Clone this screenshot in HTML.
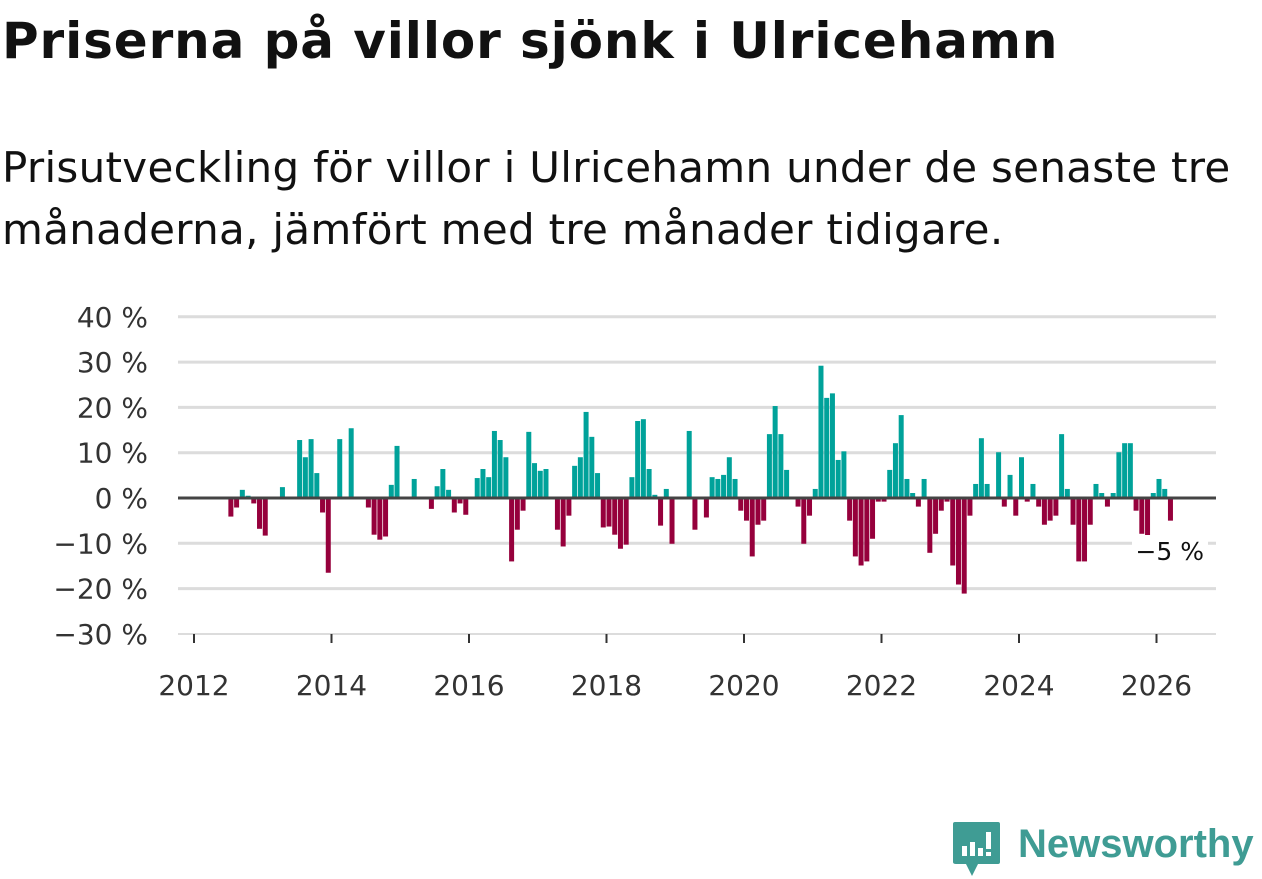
<!DOCTYPE html>
<html><head><meta charset="utf-8">
<style>
body{margin:0;width:1262px;height:879px;background:#fff;overflow:hidden;font-family:"DejaVu Sans","Liberation Sans",sans-serif;color:#111}
h1{position:absolute;left:2px;top:12px;margin:0;font-size:50px;font-weight:bold;color:#111;letter-spacing:0.9px;white-space:nowrap}
.sub{position:absolute;left:2px;top:137px;margin:0;font-size:42px;letter-spacing:0.3px;line-height:62px;color:#111;width:1258px}
svg{position:absolute;left:0;top:0}
</style></head>
<body>
<h1>Priserna på villor sjönk i Ulricehamn</h1>
<p class="sub">Prisutveckling för villor i Ulricehamn under de senaste tre månaderna, jämfört med tre månader tidigare.</p>
<svg id="chart" width="1262" height="879"></svg>
<div style="position:absolute;left:952px;top:820px;width:310px;height:58px">
  <svg width="50" height="58" style="position:absolute;left:0;top:0">
    <path d="M3,2 H46 Q48,2 48,4 V42 Q48,44 46,44 H26 L20,56 L14,44 H4 Q1,44 1,42 V4 Q1,2 3,2Z" fill="#3f9c94"/>
    <rect x="10" y="26" width="5" height="10" fill="#fff"/>
    <rect x="18" y="22" width="5" height="14" fill="#fff"/>
    <rect x="26" y="28" width="5" height="8" fill="#fff"/>
    <rect x="34" y="12" width="5" height="17" fill="#fff"/>
    <rect x="34" y="32" width="5" height="4" fill="#fff"/>
  </svg>
  <div style="position:absolute;left:66px;top:2px;font-size:40px;font-weight:bold;color:#3f9c94;font-family:'Liberation Sans',sans-serif">Newsworthy</div>
</div>
<script>
const startMonth = 6;
const values = [-4.1,-2.1,1.8,0.5,-1.2,-6.8,-8.3,0,0,2.4,0,0,12.8,9.0,13.0,5.5,-3.2,-16.5,0,13.0,0,15.4,0,0,-2.1,-8.1,-9.2,-8.5,2.9,11.5,0,0,4.2,0,0,-2.4,2.6,6.4,1.8,-3.2,-1.2,-3.7,0,4.4,6.4,4.6,14.8,12.8,9.0,-14.0,-7.0,-2.8,14.6,7.7,6.0,6.4,0,-7.0,-10.7,-3.9,7.1,9.0,19.0,13.5,5.5,-6.5,-6.3,-8.1,-11.2,-10.3,4.6,17.0,17.4,6.4,0.7,-6.1,2.0,-10.1,0,0,14.8,-7.0,0,-4.3,4.6,4.2,5.1,9.0,4.2,-2.8,-5.0,-12.9,-5.9,-5.0,14.1,20.3,14.1,6.2,0,-1.9,-10.1,-3.9,2.0,29.2,22.1,23.1,8.4,10.3,-5.0,-12.9,-14.9,-14.0,-9.0,-0.8,-0.8,6.2,12.1,18.3,4.2,1.1,-1.9,4.2,-12.1,-7.9,-2.8,-0.8,-14.9,-19.1,-21.1,-3.9,3.1,13.2,3.1,0,10.1,-1.9,5.1,-3.9,9.0,-0.8,3.1,-1.9,-5.9,-5.0,-3.9,14.1,2.0,-5.9,-14.0,-14.0,-5.9,3.1,1.1,-1.9,1.1,10.1,12.1,12.1,-2.8,-7.9,-9.0,1.1,4.2,2.0,-5.0];
const yTicks = [40,30,20,10,0,-10,-20,-30];
const xYears = [2012,2014,2016,2018,2020,2022,2024,2026];
const annotation = "−5 %";

const NS="http://www.w3.org/2000/svg";
const svg=document.getElementById('chart');
const y=v=>498-v*4.53;
const x=m=>194+m*(68.75/12);
const FF='DejaVu Sans, Liberation Sans, sans-serif';
function mk(t,a){const e=document.createElementNS(NS,t);for(const k in a)e.setAttribute(k,a[k]);svg.appendChild(e);return e;}
yTicks.forEach(v=>{
  if(v!==0 && v!==-30){const g=mk('line',{x1:178,x2:1216,y1:y(v),y2:y(v),stroke:'#dcdcdc','stroke-width':3});
  
  }
  const t=mk('text',{x:148,y:y(v)+10,'text-anchor':'end','font-size':28,fill:'#333','font-family':FF});
  t.textContent=(v<0?'−'+(-v):v)+' %';
  
  
});
const base=mk('line',{x1:178,x2:1216,y1:634,y2:634,stroke:'#dcdcdc','stroke-width':2});


xYears.forEach(yr=>{
  const xx=x((yr-2012)*12);
  const tk=mk('line',{x1:xx,x2:xx,y1:634,y2:643,stroke:'#333','stroke-width':2});
  
  
  const t=mk('text',{x:xx,y:695,'text-anchor':'middle','font-size':28,fill:'#333','font-family':FF});
  t.textContent=yr;
  
  
});
values.forEach((v,i)=>{
  if(v===0)return;
  const m=startMonth+i;
  const r=mk('rect',{x:x(m),width:5,y:v>0?y(v):y(0),height:Math.abs(y(v)-y(0)),fill:v>0?'#00a29a':'#96003c'});
  
  
});
const z=mk('line',{x1:178,x2:1216,y1:y(0),y2:y(0),stroke:'#444','stroke-width':3});


const bg=mk('rect',{x:1132,y:535,width:76,height:30,fill:'#fff'});


const an=mk('text',{x:1204,y:560,'text-anchor':'end','font-size':25,fill:'#111','font-family':FF});
an.textContent=annotation;


</script>
</body></html>
